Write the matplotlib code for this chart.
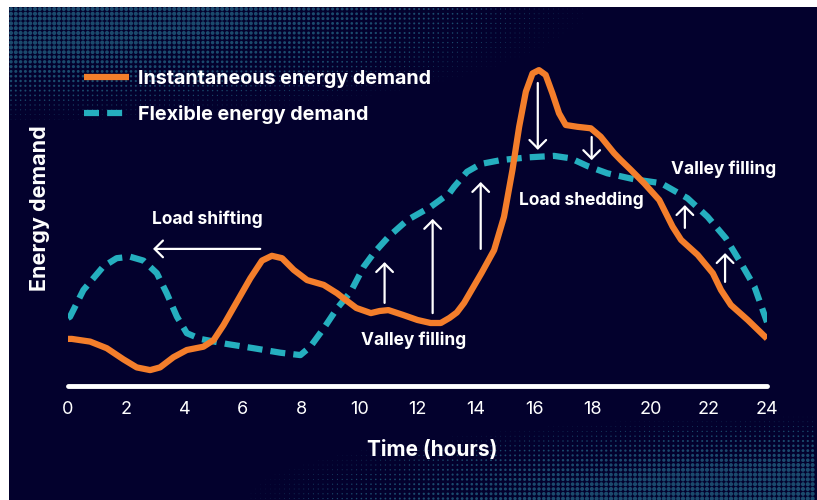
import matplotlib
matplotlib.use("Agg")
import matplotlib.pyplot as plt
import numpy as np
from matplotlib.lines import Line2D

# instantaneous demand (orange)
hours = [0.0, 0.13, 0.76, 1.33, 1.9, 2.36, 2.82, 3.16, 3.62, 4.08, 4.65, 5.0,
         5.34, 5.8, 6.26, 6.66, 7.0, 7.35, 7.75, 8.21, 8.78, 9.24, 9.45, 9.9,
         10.4, 10.7, 11.0, 11.5, 12.0, 12.45, 12.8, 13.1, 13.35, 13.6, 14.2,
         14.63, 14.97, 15.26, 15.49, 15.72, 15.95, 16.17, 16.4, 16.63, 16.86,
         17.09, 17.49, 17.95, 18.29, 18.75, 18.98, 19.33, 19.78, 20.3, 20.76,
         21.05, 21.62, 22.14, 22.42, 22.76, 23.34, 24.0]
instant = [15.7, 15.7, 14.8, 12.6, 8.9, 6.2, 5.3, 6.2, 9.6, 12.0, 13.1, 15.3,
           20.3, 28.1, 35.9, 41.8, 43.4, 42.6, 38.7, 35.3, 33.7, 30.9, 29.3,
           26.0, 24.3, 25.0, 25.3, 23.7, 22.0, 21.0, 21.0, 22.7, 24.5, 27.7,
           37.7, 45.3, 56.4, 72.0, 86.4, 98.1, 104.2, 105.3, 103.7, 97.6, 90.9,
           87.0, 86.4, 85.9, 83.1, 77.6, 75.3, 72.0, 67.6, 62.0, 53.1, 48.7,
           43.7, 37.6, 32.0, 27.0, 22.0, 15.8]

# flexible demand (teal dashed)
flex_hours = [0.0, 0.07, 0.53, 1.21, 1.67, 2.13, 2.59, 3.05, 3.39, 3.74, 4.08,
              4.54, 5.46, 6.37, 7.29, 7.98, 8.32, 8.78, 9.24, 9.7, 10.15, 10.5,
              11.0, 11.65, 12.45, 13.1, 13.25, 13.7, 14.17, 14.86, 15.77, 16.69,
              17.26, 17.84, 18.52, 19.44, 20.36, 21.27, 21.96, 22.59, 23.11,
              23.57, 24.0]
flexible = [22.7, 23.1, 32.0, 39.8, 42.6, 43.1, 41.8, 37.6, 30.9, 23.1, 17.6,
            15.7, 14.0, 12.6, 11.1, 10.3, 13.1, 19.2, 25.9, 31.3, 39.7, 44.3,
            49.7, 55.3, 59.7, 64.3, 66.3, 71.4, 74.0, 75.3, 76.2, 76.7, 75.9,
            73.3, 70.9, 68.9, 67.6, 62.6, 56.4, 49.2, 40.9, 33.1, 21.3]

tick_hours = list(range(0, 25, 2))

# annotation arrows: (x_start, y_start, x_end, y_end)
arrows = [(6.6, 45.7, 2.92, 45.7),
          (10.87, 27.7, 10.87, 41.3),
          (12.52, 24.3, 12.52, 55.7),
          (14.17, 45.7, 14.17, 68.0),
          (16.13, 101.0, 16.13, 78.7),
          (17.98, 83.0, 17.98, 75.3),
          (21.18, 52.7, 21.18, 60.3),
          (22.56, 34.7, 22.56, 44.3)]
notes = [("Load shifting", 4.78, 55.7),
         ("Valley filling", 11.86, 15.3),
         ("Load shedding", 17.64, 62.0),
         ("Valley filling", 22.52, 72.3)]

BG = "#03012d"
DOT = "#1b4a6d"
ORANGE = "#f47e2b"
TEAL = "#25afbf"
FONT = "Inter"

W, H = 817, 500
fig = plt.figure(figsize=(W / 100, H / 100), dpi=100, facecolor="white")

# background panel with halftone corners
bg = fig.add_axes([0, 0, 1, 1], zorder=0)
bg.set_xlim(0, W)
bg.set_ylim(H, 0)
bg.axis("off")
bg.add_patch(plt.Rectangle((9, 7), W - 9, H - 7, color=BG, lw=0))
gx, gy = np.meshgrid(np.arange(11, W, 4.8), np.arange(9, H, 4.8))
d1 = np.sqrt((gx / 620) ** 2 + (gy / 130) ** 2)
d2 = np.sqrt(((W - gx) / 600) ** 2 + ((H - gy) / 88) ** 2)
size = np.clip(1.6 * (1 - np.minimum(d1, d2)), 0, 1)
keep = size > 0.08
bg.scatter(gx[keep], gy[keep], s=9 * size[keep] ** 2, color=DOT, lw=0)

ax = fig.add_axes([68 / W, 1 - 386 / H, 699 / W, 345 / H], zorder=1)
ax.patch.set_alpha(0)
ax.set_xlim(0, 24)
ax.set_ylim(0, 115)

ax.plot(hours, instant, color=ORANGE, lw=4.5, solid_joinstyle="round",
        solid_capstyle="butt", zorder=3)
ax.plot(flex_hours, flexible, color=TEAL, lw=4.5, dashes=(2.4, 1.3),
        dash_capstyle="butt", dash_joinstyle="round", zorder=2)

for x0, y0, x1, y1 in arrows:
    ax.annotate("", xy=(x1, y1), xytext=(x0, y0),
                arrowprops=dict(arrowstyle="->,head_length=0.6,head_width=0.6",
                                mutation_scale=10, lw=1.6, color="white",
                                shrinkA=0, shrinkB=0), zorder=4)
for txt, x, y in notes:
    ax.text(x, y, txt, color="white", fontsize=12.5, fontweight="bold",
            family=FONT, ha="center", va="center", zorder=5)

for side in ["top", "right", "left"]:
    ax.spines[side].set_visible(False)
ax.spines["bottom"].set_color("white")
ax.spines["bottom"].set_linewidth(3.5)
ax.spines["bottom"].set_capstyle("round")
ax.set_yticks([])
ax.set_xticks(tick_hours)
ax.tick_params(axis="x", length=0, pad=11, labelcolor="white", labelsize=13)
for lab in ax.get_xticklabels():
    lab.set_family(FONT)

fig.text(432 / W, 1 - 450 / H, "Time (hours)", color="white", fontsize=15,
         fontweight="bold", family=FONT, ha="center", va="center")
fig.text(40 / W, 1 - 208 / H, "Energy demand", color="white", fontsize=15.5,
         fontweight="bold", family=FONT, ha="center", va="center", rotation=90)

handles = [Line2D([], [], color=ORANGE, lw=4.5, solid_capstyle="butt"),
           Line2D([], [], color=TEAL, lw=4.5, dashes=(2.4, 1.3), dash_capstyle="butt")]
leg = fig.legend(handles, ["Instantaneous energy demand", "Flexible energy demand"],
                 loc="upper left", bbox_to_anchor=(84 / W, 1 - 70 / H),
                 frameon=False, borderpad=0, borderaxespad=0, handlelength=2.3,
                 handletextpad=0.42, labelspacing=0.85,
                 prop=dict(family=FONT, weight="bold", size=14.2))
for t in leg.get_texts():
    t.set_color("white")

fig.savefig("out.png", dpi=100, facecolor=fig.get_facecolor())
